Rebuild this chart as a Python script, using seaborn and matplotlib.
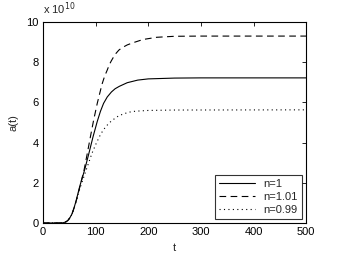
import matplotlib
matplotlib.use("Agg")
import matplotlib.pyplot as plt
import seaborn as sns

# values, a(t) in units of 1e10
t_n1 = [0, 30, 38, 43, 47, 51, 55, 59, 63, 70, 79, 87, 95, 103, 109, 115,
        122, 130, 137, 145, 160, 180, 200, 250, 300, 500]
a_n1 = [0, 0, 0.01, 0.05, 0.12, 0.26, 0.45, 0.76, 1.12, 1.85, 2.64, 3.45,
        4.29, 5.05, 5.55, 5.95, 6.27, 6.52, 6.68, 6.8, 6.98, 7.11, 7.17,
        7.21, 7.22, 7.22]
t_n101 = [0, 30, 38, 43, 47, 51, 55, 59, 63, 70, 78, 84, 90, 96, 103, 112,
          117, 122, 126, 130, 134, 138, 144, 150, 160, 170, 190, 216, 250,
          300, 500]
a_n101 = [0, 0, 0.01, 0.05, 0.12, 0.26, 0.45, 0.75, 1.1, 1.8, 2.64, 3.45,
          4.29, 5.1, 5.95, 6.9, 7.3, 7.61, 7.88, 8.08, 8.26, 8.42, 8.6,
          8.72, 8.86, 8.96, 9.13, 9.24, 9.29, 9.3, 9.3]
t_n099 = [0, 30, 38, 43, 47, 51, 55, 59, 63, 70, 82, 93, 100, 107, 112,
          118, 125, 132, 143, 154, 165, 175, 200, 250, 500]
a_n099 = [0, 0, 0.01, 0.05, 0.12, 0.25, 0.44, 0.74, 1.08, 1.72, 2.64, 3.47,
          3.9, 4.29, 4.52, 4.75, 4.96, 5.12, 5.32, 5.44, 5.52, 5.56, 5.6,
          5.62, 5.63]
labels = ["n=1", "n=1.01", "n=0.99"]

sns.set_style("white")
plt.rcParams["font.family"] = ["Liberation Sans", "DejaVu Sans"]

fig = plt.figure(figsize=(3.39, 2.56), dpi=100)
ax = fig.add_axes([0.127, 0.129, 0.776, 0.785])

series = [(t_n1, a_n1, None), (t_n101, a_n101, [6, 4]), (t_n099, a_n099, [1, 3])]
for (tt, aa, dash), lab in zip(series, labels):
    sns.lineplot(x=tt, y=aa, ax=ax, color="k", lw=0.8, label=lab)
    if dash:
        ax.lines[-1].set_dashes(dash)

ax.set_xlim(0, 500)
ax.set_ylim(0, 10)
ax.set_xticks([0, 100, 200, 300, 400, 500])
ax.set_yticks([0, 2, 4, 6, 8, 10])
ax.tick_params(direction="in", length=3, width=0.6, labelsize=8,
               top=True, right=True, colors="k", pad=3)
for s in ax.spines.values():
    s.set_linewidth(0.8)
    s.set_color("k")
ax.set_xlabel("t", fontsize=8, labelpad=4)
ax.set_ylabel("a(t)", fontsize=8, labelpad=6)
ax.text(0.0, 1.025, "x 10$^{10}$", transform=ax.transAxes, fontsize=8,
        ha="left", va="bottom")

leg = ax.legend(loc="lower right", fontsize=8, frameon=True, fancybox=False,
                edgecolor="k", handlelength=3.2, borderaxespad=0.4,
                labelspacing=0.25, borderpad=0.35)
leg.get_frame().set_linewidth(0.8)

fig.savefig("out.png", dpi=100)
